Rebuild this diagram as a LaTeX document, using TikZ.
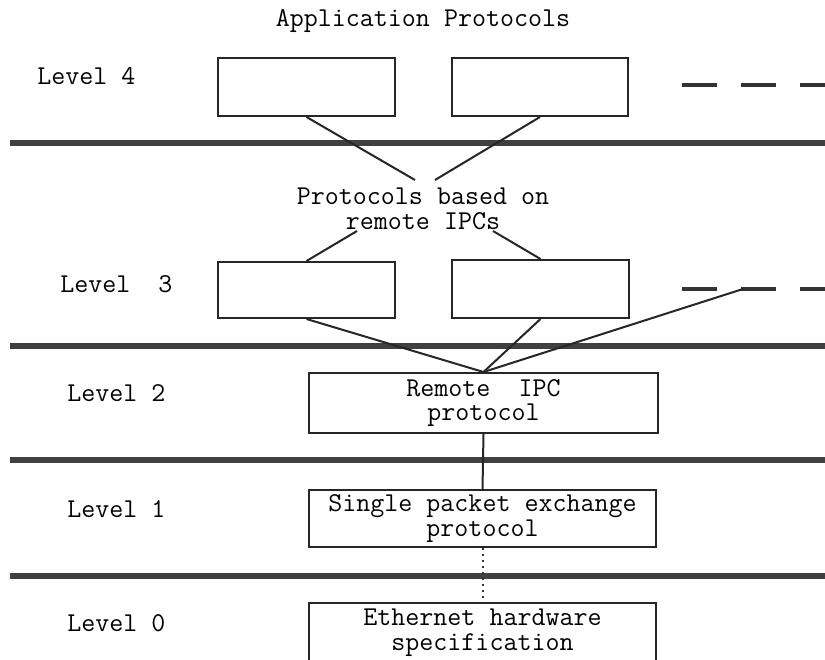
\documentclass[tikz,border=0pt]{standalone}
\usepackage{fontspec}
\begin{document}
\begin{tikzpicture}[x=0.5pt,y=-0.5pt,
  txt/.style={font=\ttfamily\fontsize{13.6}{12.3}\selectfont, text=black, inner sep=0pt, align=center},
  lbl/.style={txt, anchor=west},
  box/.style={draw=black!85, line width=1pt, inner sep=0pt, rectangle, txt},
  bar/.style={line width=3.2pt, draw=black!75},
  conn/.style={line width=1pt, draw=black!85},
  dashrow/.style={line width=1.8pt, draw=black!80, dash pattern=on 17.5pt off 12pt}]
\clip (0,0) rectangle (825,659);
\fill[white] (0,0) rectangle (825,659);

% bars
\coordinate (b1l) at (10,143); \coordinate (b1r) at (825,143);
\coordinate (b2l) at (10,346); \coordinate (b2r) at (825,346);
\coordinate (b3l) at (10,460); \coordinate (b3r) at (825,460);
\coordinate (b4l) at (10,576); \coordinate (b4r) at (825,576);
\draw[bar] (b1l) -- (b1r);
\draw[bar] (b2l) -- (b2r);
\draw[bar] (b3l) -- (b3r);
\draw[bar] (b4l) -- (b4r);

% title
\node[txt] (title) at (423,21) {Application Protocols};

% level labels
\node[lbl] (l4) at (37,76) {Level 4};
\node[lbl] (l3) at (60,284) {Level\ \ 3};
\node[lbl] (l2) at (67,393) {Level 2};
\node[lbl] (l1) at (67,509) {Level 1};
\node[lbl] (l0) at (67,623) {Level 0};

% level 4 boxes
\node[box, minimum width=88.5pt, minimum height=29pt] (a4) at (306.5,87) {};
\node[box, minimum width=88pt, minimum height=29pt] (b4) at (540,87) {};
\coordinate (d4s) at (682,85); \coordinate (d4e) at (825,85);
\draw[dashrow] (d4s) -- (d4e);

% middle text
\node[txt] (mid) at (423,209) {Protocols based on\\remote IPCs};
\coordinate (m1) at (415,180);
\coordinate (m2) at (435,180);
\coordinate (m3) at (357,231);
\coordinate (m4) at (493,231);
\draw[conn] (a4.south) -- (m1);
\draw[conn] (b4.south) -- (m2);

% level 3 boxes
\node[box, minimum width=88.5pt, minimum height=28pt] (a3) at (306.5,290) {};
\node[box, minimum width=88.5pt, minimum height=29pt] (b3) at (540.5,289) {};
\coordinate (d3s) at (682,289); \coordinate (d3e) at (825,289);
\draw[dashrow] (d3s) -- (d3e);
\coordinate (d3m) at (743,289);
\draw[conn] (m3) -- (a3.north);
\draw[conn] (m4) -- (b3.north);

% level 2
\node[box, minimum width=174.5pt, minimum height=30pt] (rip) at (483.5,403) {\raisebox{-2pt}{Remote\ \ IPC}\\\raisebox{-2pt}{protocol}};
\draw[conn] (a3.south) -- (rip.north);
\draw[conn] (b3.south) -- (rip.north);
\draw[conn] (d3m) -- (rip.north);

% level 1
\node[box, minimum width=173.5pt, minimum height=28.5pt] (spe) at (482.5,518.5) {\raisebox{-1pt}{Single packet exchange}\\\raisebox{-1pt}{protocol}};
\draw[conn] (rip.south) -- (spe.north);

% level 0
\node[box, minimum width=173.5pt, minimum height=30pt] (eth) at (482.5,633) {Ethernet hardware\\specification};
\draw[line width=1pt, draw=black!80, dotted] (spe.south) -- (eth.north);
\end{tikzpicture}
\end{document}
